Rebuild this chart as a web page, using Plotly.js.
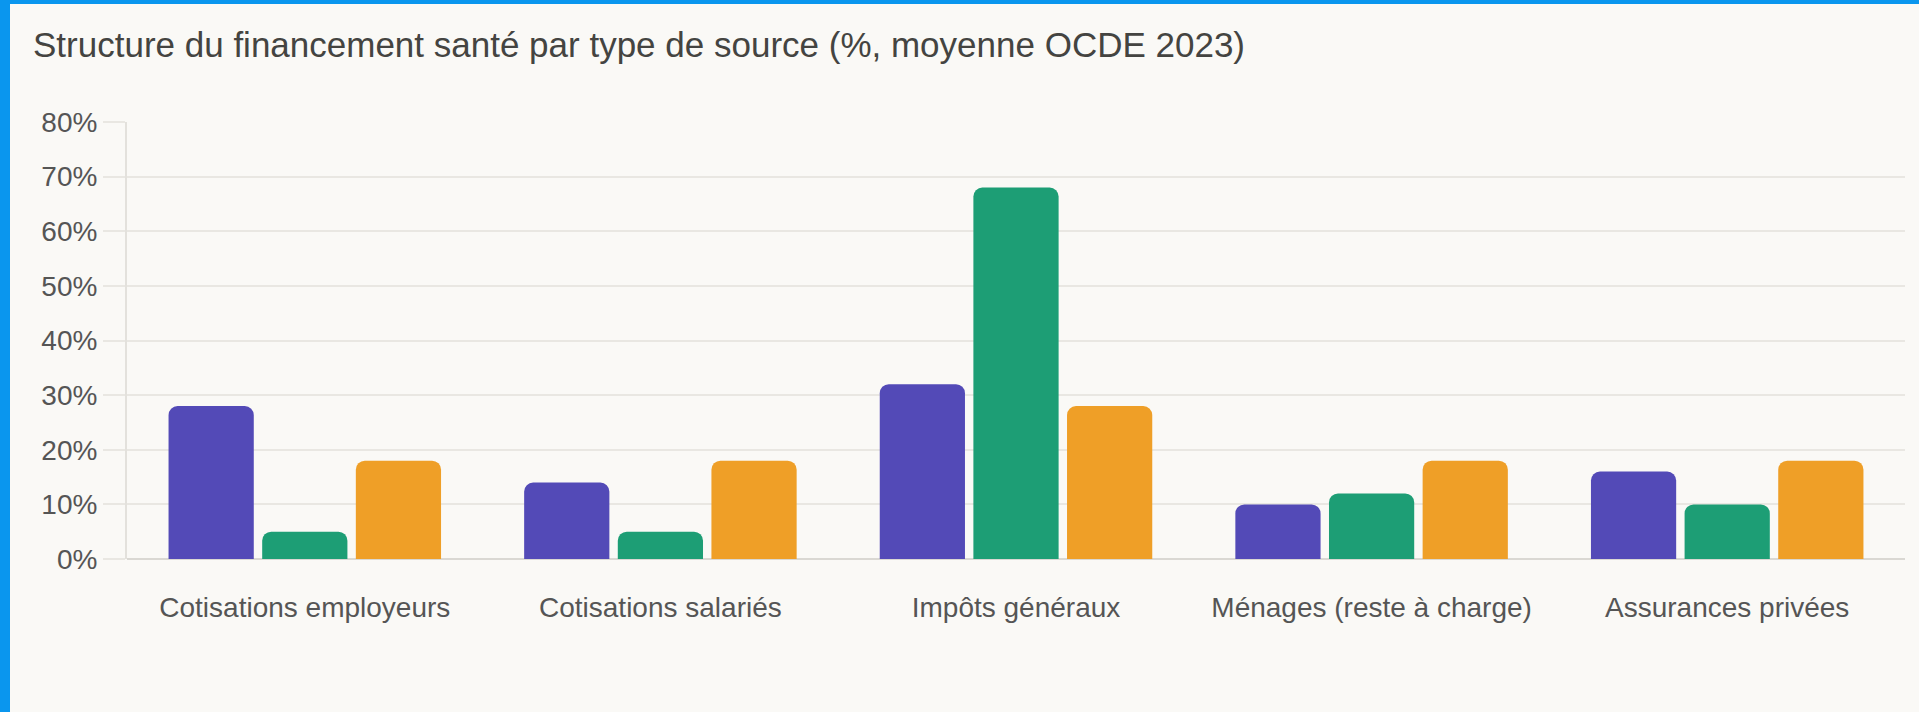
<!DOCTYPE html>
<html>
<head>
<meta charset="utf-8">
<script src="https://cdn.plot.ly/plotly-3.0.1.min.js"></script>
<style>
  html, body { margin: 0; padding: 0; background: #0a96ee; width: 1919px; height: 712px; overflow: hidden; }
  #chart { position: absolute; left: 10px; top: 4px; width: 1909px; height: 708px; }
</style>
</head>
<body>
<div id="chart"></div>
<script>
// Data
const categories = ["Cotisations employeurs", "Cotisations salariés", "Impôts généraux", "Ménages (reste à charge)", "Assurances privées"];
const seriesNames = ["Modèle Bismarck", "Modèle Beveridge", "Moyenne OCDE"];
const bismarck = [28, 14, 32, 10, 16];
const beveridge = [5, 5, 68, 12, 10];
const moyenneOCDE = [18, 18, 28, 18, 18];
const yTickValues = [0, 10, 20, 30, 40, 50, 60, 70, 80];
const yTickLabels = ["0%", "10%", "20%", "30%", "40%", "50%", "60%", "70%", "80%"];
const colors = ["#534AB7", "#1D9E75", "#EF9F27"];
const titleText = "Structure du financement santé par type de source (%, moyenne OCDE 2023)";

const values = [bismarck, beveridge, moyenneOCDE];
const traces = values.map((v, i) => ({
  type: "bar",
  name: seriesNames[i],
  x: categories,
  y: v,
  marker: { color: colors[i], cornerradius: 9, line: { width: 0 } },
  hovertemplate: "%{x}: %{y}%<extra>" + seriesNames[i] + "</extra>"
}));

const layout = {
  width: 1909,
  height: 708,
  paper_bgcolor: "#faf9f6",
  plot_bgcolor: "#faf9f6",
  showlegend: false,
  barmode: "group",
  bargap: 0.21,
  bargroupgap: 0.09,
  margin: { l: 117, r: 14, t: 118, b: 153 },
  title: {
    text: titleText,
    font: { family: "Liberation Sans, Arial, sans-serif", size: 35, color: "#444441" },
    xref: "container", x: 23 / 1909, xanchor: "left",
    yref: "container", y: 1 - 41 / 708, yanchor: "middle"
  },
  xaxis: {
    type: "category",
    tickfont: { family: "Liberation Sans, Arial, sans-serif", size: 28, color: "#555" },
    ticks: "",
    ticklabelstandoff: 29,
    showgrid: false,
    showline: false,
    zeroline: false,
    fixedrange: true
  },
  yaxis: {
    range: [0, 80],
    tickvals: yTickValues,
    ticktext: yTickLabels,
    tickfont: { family: "Liberation Sans, Arial, sans-serif", size: 28, color: "#555" },
    ticks: "outside",
    ticklen: 22,
    tickwidth: 2,
    tickcolor: "#e9e7e2",
    gridcolor: "#e9e7e2",
    gridwidth: 2,
    showline: true,
    linecolor: "#e3e1dc",
    linewidth: 2,
    zeroline: true,
    zerolinecolor: "#dad8d3",
    zerolinewidth: 2,
    fixedrange: true
  }
};

Plotly.newPlot("chart", traces, layout, { displayModeBar: false });
</script>
</body>
</html>
